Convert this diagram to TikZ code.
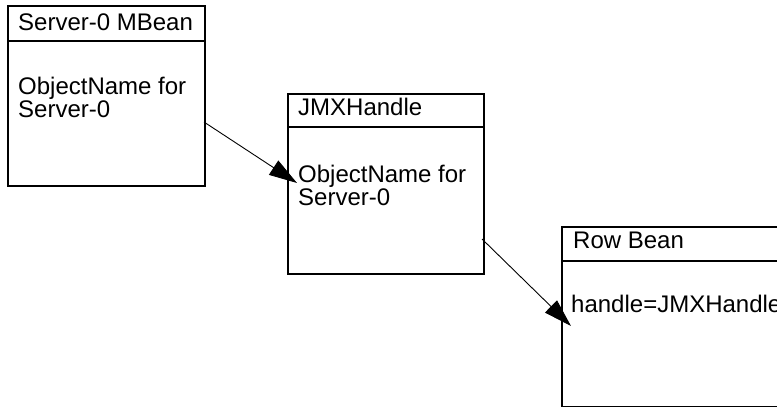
\documentclass[tikz,border=0pt]{standalone}
\usepackage{fontspec}
\setmainfont{Liberation Sans}
\usetikzlibrary{arrows.meta,calc}
\begin{document}
\begin{tikzpicture}[x=1pt,y=-1pt,
  box/.style={draw, line width=2pt, anchor=north west, inner sep=0pt, minimum height=180pt},
  hdr/.style={line width=2pt},
  txt/.style={anchor=base west, inner sep=0pt, font=\fontsize{24pt}{23pt}\selectfont},
  conn/.style={line width=0.9pt, -{Triangle[length=28pt,width=17pt]}}]
\useasboundingbox (0,0) rectangle (777,407);
% boxes
\node[box, minimum width=197pt] (b1) at (7,5) {};
\node[box, minimum width=196pt] (b2) at (287,93) {};
\node[box, minimum width=260pt, minimum height=180pt] (b3) at (561,226) {};
% header separators
\draw[hdr] ([yshift=-36pt]b1.north west) -- ([yshift=-36pt]b1.north east);
\draw[hdr] ([yshift=-34pt]b2.north west) -- ([yshift=-34pt]b2.north east);
\draw[hdr] ([yshift=-35pt]b3.north west) -- ([yshift=-35pt]b3.north east);
% texts
\node[txt] (h1) at (18,30) {Server-0 MBean};
\node[txt] (t1a) at (18,94) {ObjectName for};
\node[txt] (t1b) at (18,117) {Server-0};
\node[txt] (h2) at (298,115) {JMXHandle};
\node[txt] (t2a) at (298,182) {ObjectName for};
\node[txt] (t2b) at (298,205) {Server-0};
\node[txt] (h3) at (573,248) {Row Bean};
\node[txt] (t3a) at (571,312) {handle=JMXHandle};
% connectors
\coordinate (s1) at (204,122);
\coordinate (s2) at (482,239);
\draw[conn] (s1) -- ([xshift=-1pt,yshift=-1pt]t2a.base west);
\draw[conn] (s2) -- ([xshift=0pt,yshift=-14pt]t3a.base west);
\end{tikzpicture}
\end{document}
